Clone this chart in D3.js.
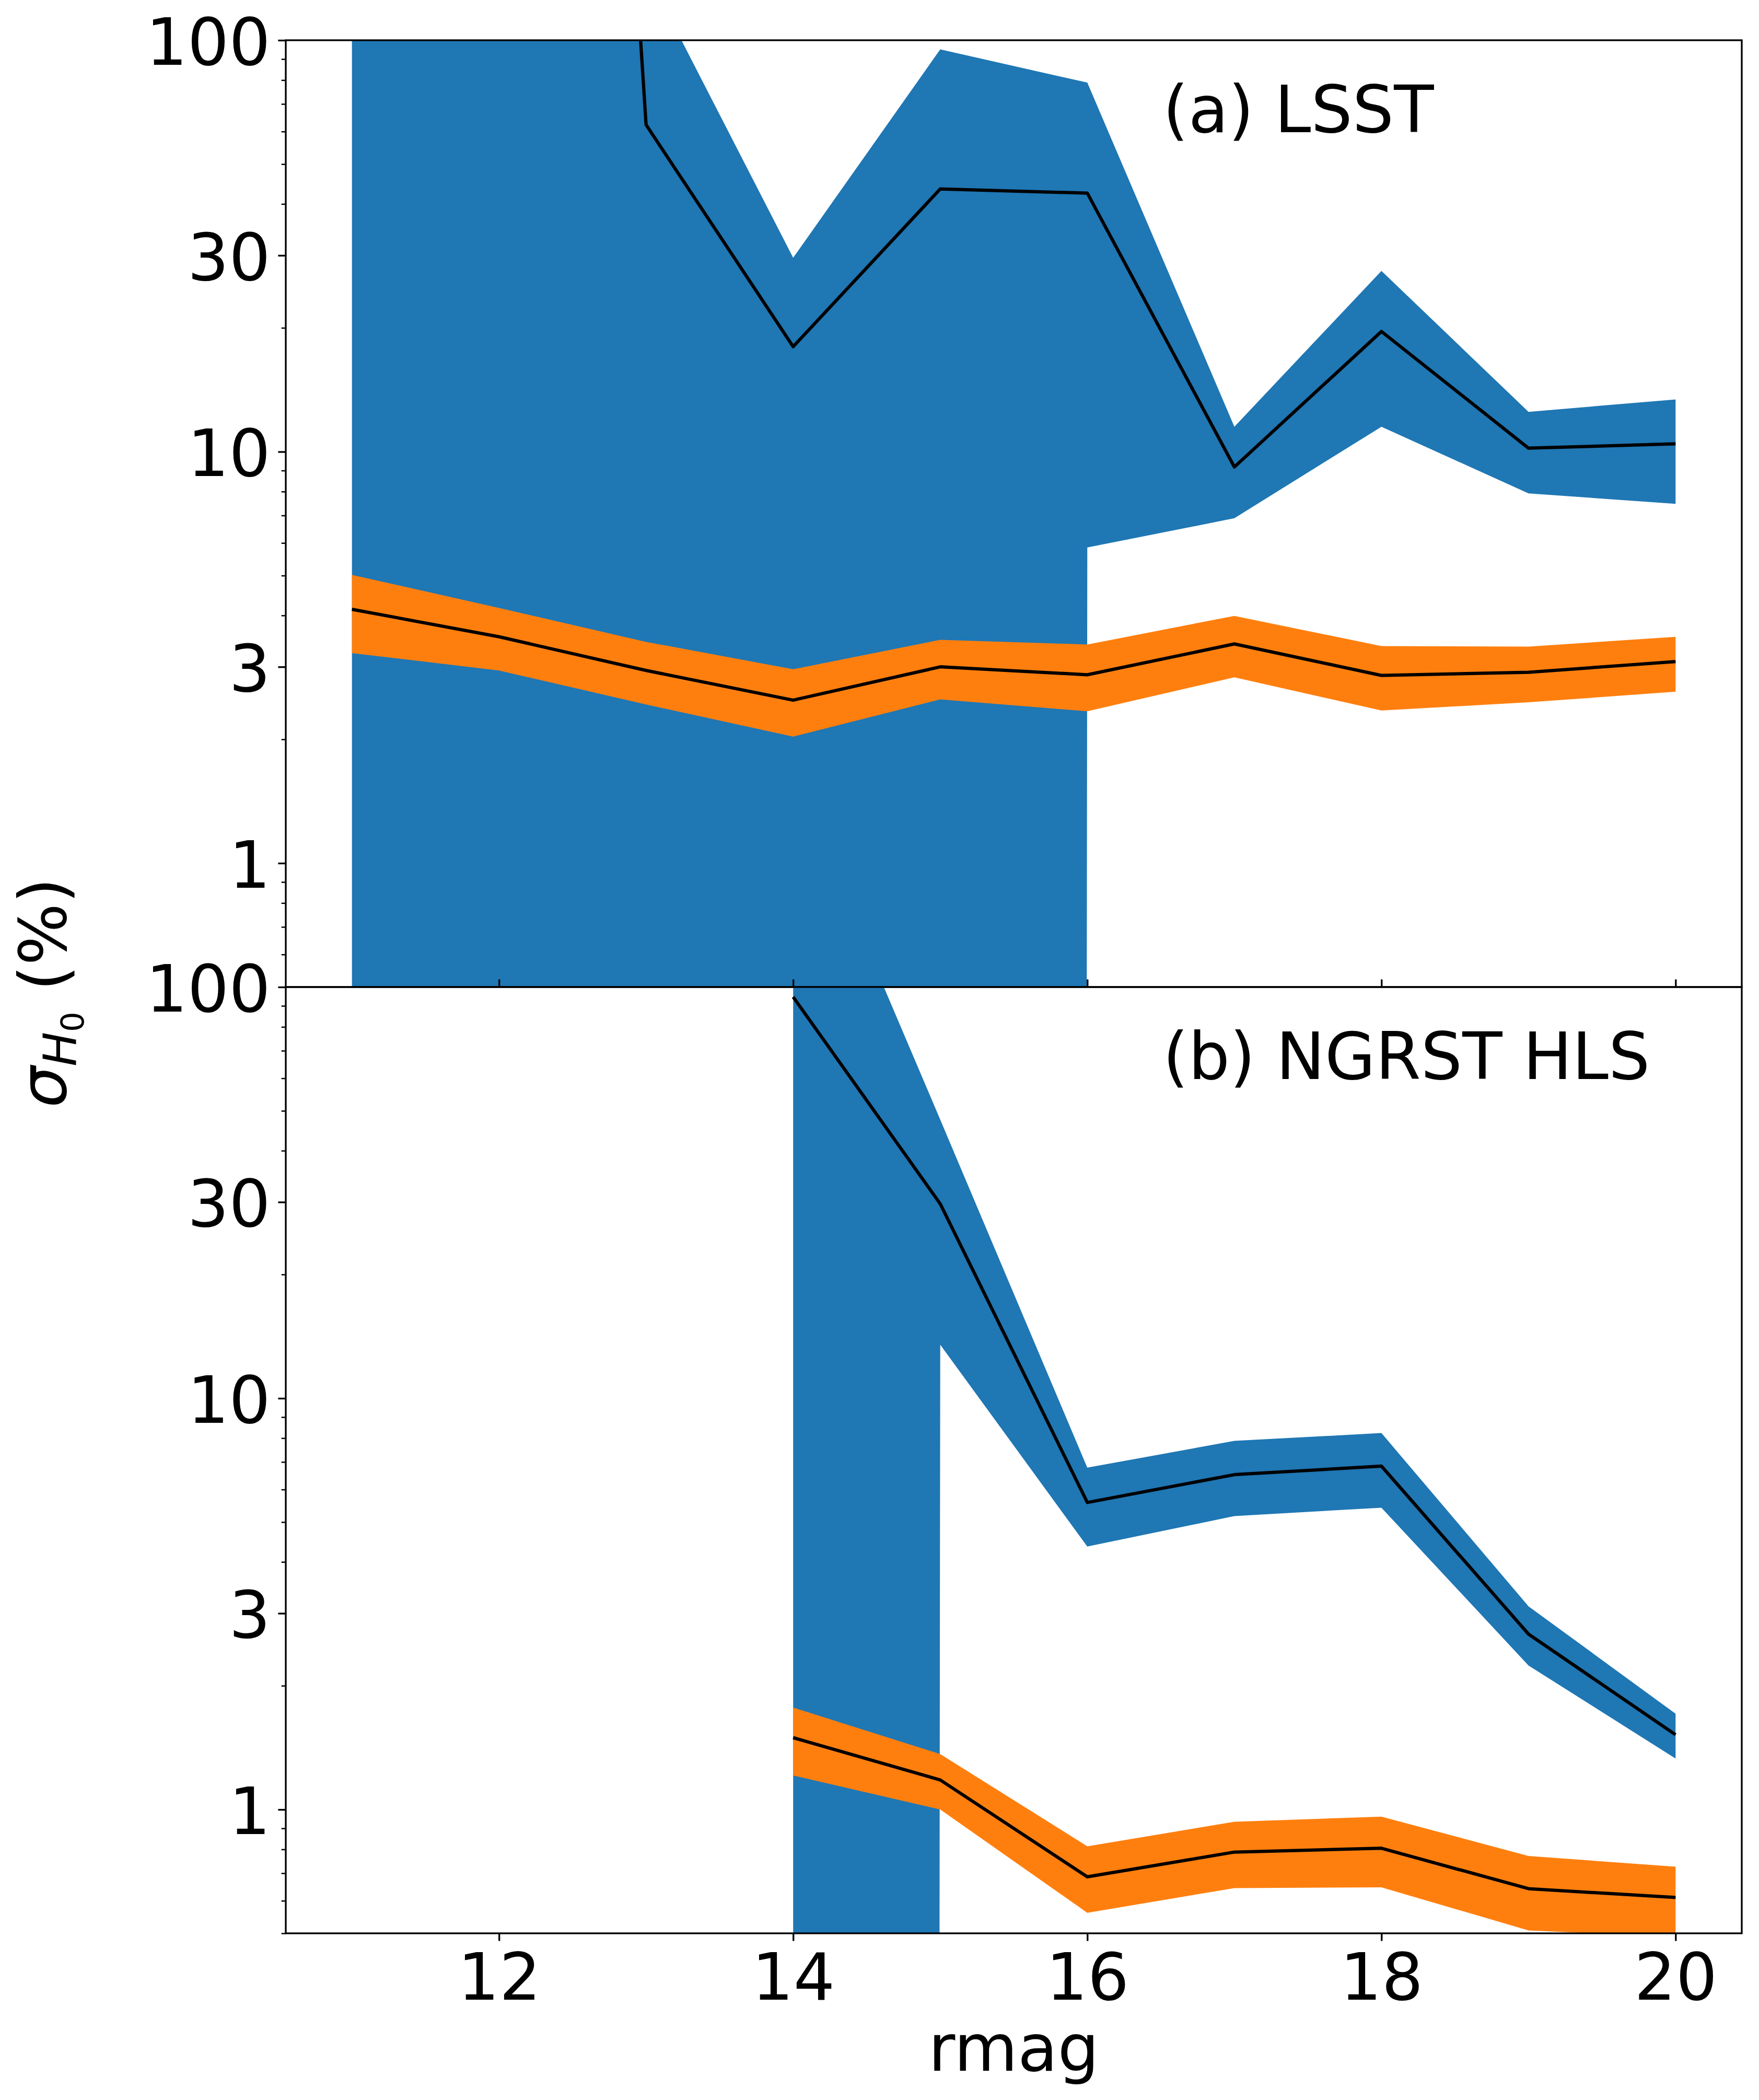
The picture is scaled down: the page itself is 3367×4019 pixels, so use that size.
<!DOCTYPE html>
<html>
<head>
<meta charset="utf-8">
<script src="https://cdn.jsdelivr.net/npm/d3@7"></script>
<style>
  html, body { margin: 0; padding: 0; background: #ffffff; }
  svg { display: block; }
  text { font-family: "DejaVu Sans", sans-serif; fill: #000; }
</style>
</head>
<body>
<svg id="chart" width="3367" height="4019"></svg>
<script>
// ---------------- data ----------------
const rmag = [11, 12, 13, 14, 15, 16, 17, 18, 19, 20];

// (a) LSST  (0 = non-positive lower bound, clipped on the log axis)
const lsstBlueLow  = [0, 0, 0, 0, 0, 5.85, 6.89, 11.5, 7.92, 7.47];
const lsstBlueMid  = [5e6, 2e7, 62.3, 18.0, 43.5, 42.5, 9.18, 19.6, 10.2, 10.45];
const lsstBlueHigh = [1000, 1000, 147, 29.6, 95, 78.9, 11.5, 27.5, 12.5, 13.4];
const lsstOrangeLow  = [3.24, 2.94, 2.43, 2.03, 2.50, 2.34, 2.83, 2.35, 2.46, 2.61];
const lsstOrangeMid  = [4.14, 3.55, 2.94, 2.49, 3.00, 2.87, 3.41, 2.86, 2.91, 3.09];
const lsstOrangeHigh = [5.02, 4.17, 3.45, 2.96, 3.49, 3.40, 3.99, 3.37, 3.36, 3.55];

// (b) NGRST HLS  (null = no data)
const hlsBlueLow  = [null, null, null, 0, 13.5, 4.36, 5.17, 5.42, 2.24, 1.33];
const hlsBlueMid  = [null, null, null, 94.6, 29.7, 5.58, 6.52, 6.84, 2.67, 1.52];
const hlsBlueHigh = [null, null, null, 330, 47.6, 6.78, 7.88, 8.23, 3.12, 1.71];
const hlsOrangeLow  = [null, null, null, 1.21, 1.00, 0.561, 0.644, 0.647, 0.508, 0.49];
const hlsOrangeMid  = [null, null, null, 1.495, 1.18, 0.686, 0.788, 0.805, 0.642, 0.611];
const hlsOrangeHigh = [null, null, null, 1.77, 1.364, 0.814, 0.934, 0.961, 0.771, 0.726];

const panelLabels = ["(a) LSST", "(b) NGRST HLS"];
const yMajorTicks = [1, 3, 10, 30, 100];
const yMinorTicks = [0.5, 0.6, 0.7, 0.8, 0.9, 2, 4, 5, 6, 7, 8, 9, 20, 40, 50, 60, 70, 80, 90];
const xTicks = [12, 14, 16, 18, 20];
const xLabel = "rmag";

// ---------------- layout ----------------
const W = 3367, H = 4019;
const L = 547, R = 3334;
const panelTops = [77, 1889];
const panelBottoms = [1889, 3700];
const FS = 125;
const majorLen = 14.6, minorLen = 8.3;
const blue = "#1f77b4", orange = "#ff7f0e";
const LW = 6.25;

const svg = d3.select("#chart");
svg.append("rect").attr("width", W).attr("height", H).attr("fill", "#fff");

const x = d3.scaleLinear().domain([10.55, 20.45]).range([L, R]);

const panels = [
  {blo: lsstBlueLow, bmid: lsstBlueMid, bhi: lsstBlueHigh,
   olo: lsstOrangeLow, omid: lsstOrangeMid, ohi: lsstOrangeHigh},
  {blo: hlsBlueLow, bmid: hlsBlueMid, bhi: hlsBlueHigh,
   olo: hlsOrangeLow, omid: hlsOrangeMid, ohi: hlsOrangeHigh}
];

const defs = svg.append("defs");

panels.forEach((p, i) => {
  const top = panelTops[i], bot = panelBottoms[i];
  const y = d3.scaleLog().domain([0.5, 100]).range([bot, top]);
  const yv = v => y(v > 0 ? v : 1e-300);

  defs.append("clipPath").attr("id", "clip" + i)
    .append("rect").attr("x", L).attr("y", top).attr("width", R - L).attr("height", bot - top);

  const g = svg.append("g");
  const plot = g.append("g").attr("clip-path", `url(#clip${i})`);

  const rows = rmag.map((r, k) => ({
    x: r, blo: p.blo[k], bmid: p.bmid[k], bhi: p.bhi[k],
    olo: p.olo[k], omid: p.omid[k], ohi: p.ohi[k]
  }));

  const areaB = d3.area().defined(d => d.blo != null)
    .x(d => x(d.x)).y0(d => yv(d.blo)).y1(d => yv(d.bhi));
  const areaO = d3.area().defined(d => d.olo != null)
    .x(d => x(d.x)).y0(d => yv(d.olo)).y1(d => yv(d.ohi));
  const lineB = d3.line().defined(d => d.bmid != null).x(d => x(d.x)).y(d => yv(d.bmid));
  const lineO = d3.line().defined(d => d.omid != null).x(d => x(d.x)).y(d => yv(d.omid));

  plot.append("path").attr("d", areaB(rows)).attr("fill", blue);
  plot.append("path").attr("d", lineB(rows)).attr("fill", "none")
    .attr("stroke", "#000").attr("stroke-width", LW).attr("stroke-linejoin", "round");
  plot.append("path").attr("d", areaO(rows)).attr("fill", orange);
  plot.append("path").attr("d", lineO(rows)).attr("fill", "none")
    .attr("stroke", "#000").attr("stroke-width", LW).attr("stroke-linejoin", "round");

  // y axis minor ticks
  const yMinor = g.append("g").attr("transform", `translate(${L},0)`)
    .call(d3.axisLeft(y).tickValues(yMinorTicks).tickFormat("").tickSizeInner(minorLen).tickSizeOuter(0));
  yMinor.select(".domain").remove();
  yMinor.selectAll("line").attr("stroke-width", 2.5);

  // y axis major ticks
  const yMajor = g.append("g").attr("transform", `translate(${L},0)`)
    .call(d3.axisLeft(y).tickValues(yMajorTicks).tickFormat(d3.format("d"))
      .tickSizeInner(majorLen).tickSizeOuter(0).tickPadding(14.6));
  yMajor.select(".domain").remove();
  yMajor.selectAll("line").attr("stroke-width", 3.3);
  yMajor.selectAll("text").attr("font-size", FS).attr("font-family", "DejaVu Sans").attr("dy", "0.37em");

  if (i === 1) {
    // bottom x axis with labels
    const xb = g.append("g").attr("transform", `translate(0,${bot})`)
      .call(d3.axisBottom(x).tickValues(xTicks).tickFormat(d3.format("d"))
        .tickSizeInner(majorLen).tickSizeOuter(0).tickPadding(14.6));
    xb.select(".domain").remove();
    xb.selectAll("line").attr("stroke-width", 3.3);
    xb.selectAll("text").attr("font-size", FS).attr("font-family", "DejaVu Sans").attr("dy", "0.78em");
    // top ticks (pointing up into upper panel)
    const xt = g.append("g").attr("transform", `translate(0,${top})`)
      .call(d3.axisTop(x).tickValues(xTicks).tickFormat("").tickSizeInner(majorLen).tickSizeOuter(0));
    xt.select(".domain").remove();
    xt.selectAll("line").attr("stroke-width", 3.3);
  }

  // spines
  g.append("rect").attr("x", L).attr("y", top).attr("width", R - L).attr("height", bot - top)
    .attr("fill", "none").attr("stroke", "#000").attr("stroke-width", 3.3);

  // panel label
  g.append("text").attr("x", 2226).attr("y", top + 175.5)
    .attr("font-size", FS).text(panelLabels[i]);
});

// x label
svg.append("text").attr("x", (L + R) / 2).attr("y", 3963)
  .attr("text-anchor", "middle").attr("font-size", FS).text(xLabel);

// y label  sigma_{H_0} (%)
const yl = svg.append("text").attr("transform", "translate(126,1900) rotate(-90)")
  .attr("text-anchor", "middle").attr("font-size", FS);
yl.append("tspan").attr("font-style", "italic").text("σ");
yl.append("tspan").attr("font-style", "italic").attr("font-size", 87.5).attr("dy", 19).text("H");
yl.append("tspan").attr("font-size", 61).attr("dy", 15).text("0");
yl.append("tspan").attr("font-size", FS).attr("dy", -34).attr("xml:space", "preserve").text("\u00a0(%)");
</script>
</body>
</html>
